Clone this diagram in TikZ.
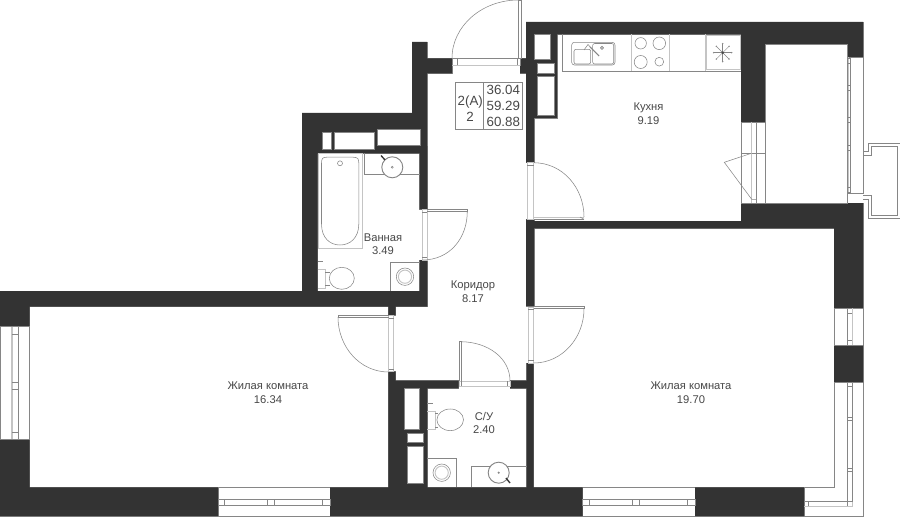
\documentclass[tikz,border=0pt]{standalone}
\usepackage{fontspec}
\setmainfont{Liberation Sans}
\definecolor{wallc}{HTML}{333333}
\definecolor{linec}{HTML}{868686}
\definecolor{lightc}{HTML}{C4C4C4}
\definecolor{textc}{HTML}{484848}
\newcommand{\wallrects}{
 (412,42) rectangle (427,120)
 (427,58.3) rectangle (452,73.3)
 (520,58.3) rectangle (537,73.3)
 (526,22) rectangle (557,118)
 (526,22) rectangle (863,34.3)
 (741,34) rectangle (765,122)
 (765,34) rectangle (863,44)
 (847,34) rectangle (863,57)
 (741,203) rectangle (863,221)
 (526,221) rectangle (863,228.3)
 (526,118) rectangle (534,162.7)
 (526,219.3) rectangle (534,306)
 (834,228) rectangle (863,308)
 (834,345) rectangle (863,382.7)
 (302,113) rectangle (427,153.3)
 (302,113) rectangle (317.7,291)
 (419.7,146) rectangle (427.3,209.3)
 (419.7,260) rectangle (427.3,291)
 (0,291) rectangle (427.3,306.7)
 (0,291) rectangle (29.7,326.7)
 (0,439) rectangle (29.7,487.3)
 (0,487.3) rectangle (218,516)
 (330,487.3) rectangle (582.7,516)
 (695,487.3) rectangle (804,516)
 (388.3,306) rectangle (395.7,315)
 (388.3,371.7) rectangle (395.7,388.3)
 (388.3,380.7) rectangle (458.7,388.3)
 (510,380.7) rectangle (533.7,388.3)
 (388.3,380.7) rectangle (427.3,487.3)
 (526.7,363) rectangle (533.7,487.3)
}
\tikzset{
 plan/.style={x=0.75pt,y=-0.75pt},
 thin line/.style={draw=linec,line width=0.4pt},
 soft line/.style={draw=lightc,line width=0.7pt},
 shaft/.style={fill=white,draw=linec,line width=0.25pt},
 fixture/.style={draw=linec,line width=0.7pt,fill=white},
 label/.style={text=textc,font=\fontsize{8.4pt}{10pt}\selectfont,inner sep=0pt,anchor=center},
 tablelabel/.style={text=textc,font=\fontsize{10pt}{12pt}\selectfont,inner sep=0pt,anchor=center},
}
\begin{document}
\begin{tikzpicture}[plan]
\useasboundingbox (0,0) rectangle (900,517);
\fill[white] (0,0) rectangle (900,517);
% walls
\path[draw=linec,line width=0.7pt] \wallrects;
\fill[wallc] \wallrects;
% shafts
\foreach \a/\b/\c/\d in {534/34.3/550/59, 537.3/62.7/554/72.7, 537.3/76/554/114.7,
 321.7/132.3/330.7/149.3, 334.3/132.3/373.7/149.3, 376.7/129/419.7/145,
 403.7/388.3/419.3/429, 407/432.7/423/442, 407/445.7/423/483.3}
 \path[shaft] (\a,\b) rectangle (\c,\d);
% entrance door
\draw[thin line] (452,58.3) rectangle (520,65);
\draw[thin line] (457.3,58.3) -- (457.3,65) (517.7,58.3) -- (517.7,65);
\draw[soft line] (452,65) -- (520,65);
\draw[thin line] (518.3,0) rectangle (521,58.3);
\draw[thin line] (452,58.3) .. controls (452,26) and (482,0) .. (518.3,0);
% kitchen door (corridor)
\draw[soft line] (527.3,162.7) rectangle (533.5,219.3);
\draw[thin line] (527.3,165) -- (533.5,165);
\draw[thin line] (534,162.7) .. controls (563,163) and (584,188) .. (584,217);
\draw[soft line] (534,217.5) -- (584,217.5);
\draw[thin line] (534,219.3) -- (584,219.3);
\draw[thin line] (580,217) -- (584,219.3);
% bath door
\draw[soft line] (422.3,209.3) rectangle (427.3,260);
\draw[thin line] (422.3,212) -- (427.3,212) (422.3,257.5) -- (427.3,257.5);
\draw[thin line] (427.3,209.3) -- (467.3,209.3) -- (467.3,211.3) -- (427.3,211.3);
\draw[thin line] (467.3,211.3) .. controls (467.3,238) and (450,260) .. (422.3,260);
% room 1 door
\draw[soft line] (388.5,315) rectangle (393.5,371.7);
\draw[thin line] (388.5,318) -- (393.5,318) (388.5,369) -- (393.5,369);
\draw[thin line] (388.5,315) -- (338,315) -- (338,317) -- (388.5,317);
\draw[thin line] (338,317) .. controls (338,347) and (360,372) .. (388.5,372);
% room 2 door
\draw[soft line] (528,307) rectangle (533.5,363);
\draw[thin line] (528,309.5) -- (533.5,309.5) (528,360.5) -- (533.5,360.5);
\draw[thin line] (533.7,306.7) -- (584,306.7) -- (584,308.7) -- (533.7,308.7);
\draw[thin line] (584,308.7) .. controls (584,338) and (562,363) .. (533.7,363);
% wc door
\draw[soft line] (459,381) rectangle (510,386);
\draw[thin line] (461.5,381) -- (461.5,386) (507.5,381) -- (507.5,386);
\draw[thin line] (459,381) -- (459,341.5) -- (461,341.5) -- (461,381);
\draw[thin line] (461,341.7) .. controls (488,342) and (510,358) .. (510,381);
% kitchen furniture
\draw[thin line] (562.3,34.3) -- (562.3,71.3) -- (740.7,71.3);
\draw[soft line] (631.5,34.3) -- (631.5,71.3) (669,34.3) -- (669,71.3) (705,34.3) -- (705,71.3);
\draw[soft line] (706,35) rectangle (740,69.3);
\draw[thin line,rounded corners=2pt] (571.7,42.3) rectangle (615,65);
\draw[thin line,rounded corners=1.5pt] (574,49.3) rectangle (590.7,64);
\draw[thin line,rounded corners=1.5pt] (592.7,43.5) rectangle (613.7,64);
\draw[thin line] (584,50) -- (588,44.5) -- (592,49);
\draw[draw=linec,line width=0.8pt] (590,47) -- (599,56);
\draw[thin line,fill=linec!50] (602,47.8) circle (1.6);
\foreach \cx/\cy/\r in {640.7/43.3/5.7, 640.7/62/6.5, 659.3/43.3/6.3, 659.3/61.7/4.4}
 \draw[thin line] (\cx,\cy) circle (\r);
% fridge star
\foreach \ang in {0,45,...,315}{
 \draw[draw=linec,line width=0.35pt] (722.7,52.7) -- ++(\ang:9);
 \fill[linec] (722.7,52.7) ++(\ang:9) circle (0.8);
}
\fill[textc] (722.7,52.7) circle (1.4);
% loggia door
\draw[thin line] (741,122) -- (765,122) (765,122) -- (765,203) (741,122) -- (741,203) (741,203) -- (765,203) (741,153.3) -- (765,153.3);
\draw[soft line] (751.7,122) -- (751.7,203);
\draw[thin line] (756.7,122) -- (756.7,203);
\draw[thin line] (751.5,153.3) -- (724.3,162.3) -- (751.7,199.3) -- (756.7,199.3);
% loggia outline
\draw[thin line] (765,44) rectangle (847,203);
% loggia window
\draw[thin line] (847,57) -- (863,57) -- (863,193) -- (847,193);
\draw[soft line] (848.5,57) -- (848.5,193);
\draw[thin line] (850,57) -- (850,193);
\foreach \yy in {58.5,63,85,90,117,122,145,150,187,192}
 \draw[thin line] (847,\yy) -- (850,\yy);
% AC basket
\draw[thin line] (863,151.7) -- (868.3,151.7) -- (868.3,143.3) -- (900,143.3) -- (900,218) -- (868.3,218) -- (868.3,199) -- (863,199);
\draw[thin line] (863,155.7) -- (871.7,155.7) -- (871.7,146) -- (897,146) -- (897,215.7) -- (871.7,215.7) -- (871.7,195.7) -- (863,195.7);
% left window
\draw[thin line] (0,326.7) -- (29.5,326.7) -- (29.5,439) -- (0,439);
\draw[thin line] (0.3,326.7) -- (0.3,439);
\draw[draw=lightc,line width=1.4pt] (12.3,326.7) -- (12.3,439);
\draw[thin line] (18.7,326.7) -- (18.7,439);
\foreach \yy in {334.3,382.7,389.3,432.3}
 \draw[thin line] (12,\yy) -- (18.7,\yy);
% bottom left window
\draw[thin line] (218,487.3) -- (330,487.3) (218,516) -- (330,516);
\draw[thin line] (218,499.3) rectangle (330,505.7);
\foreach \xx in {224.7,267.3,274.3,322.3}
 \draw[thin line] (\xx,499.3) -- (\xx,505.7);
% bottom right window
\draw[thin line] (582.7,487.3) -- (695,487.3) (582.7,516) -- (695,516);
\draw[thin line] (582.7,499.3) rectangle (695,505.7);
\foreach \xx in {589.5,632,639,687}
 \draw[thin line] (\xx,499.3) -- (\xx,505.7);
% right windows
\draw[thin line] (834.3,308) -- (834.3,345) (863.3,308) -- (863.3,345) (834.3,308) -- (863.3,308) (834.3,345) -- (863.3,345);
\draw[thin line] (847.3,308) -- (847.3,345);
\draw[soft line] (852.3,308) -- (852.3,345);
\foreach \yy in {313,340.5}
 \draw[thin line] (847.3,\yy) -- (852.3,\yy);
\draw[draw=linec,line width=0.6pt] (834.3,382.7) -- (834.3,487.3) -- (804,487.3);
\draw[thin line] (863.3,382.7) -- (863.3,516) -- (804,516);
\draw[thin line] (834.3,382.7) -- (863.3,382.7);
\draw[thin line] (847.3,382.7) -- (847.3,501) -- (804,501);
\draw[soft line] (852.3,382.7) -- (852.3,506) -- (804,506);
\draw[thin line] (852.3,382.7) -- (852.3,501) -- (847.3,501) -- (847.3,506);
\foreach \yy in {386.5,417,420.5,468,471}
 \draw[thin line] (847.3,\yy) -- (852.3,\yy);
\draw[thin line] (808.7,501) -- (808.7,506);
% bathtub
\draw[soft line] (318.3,153.6) rectangle (362.8,248);
\draw[thin line] (321.5,163) .. controls (321.5,158) and (323,157.2) .. (327,157.2) -- (353,157.2) .. controls (358,157.2) and (358.8,159) .. (358.8,163) -- (358.8,224) .. controls (358.8,238) and (350,245) .. (340,245) .. controls (330,245) and (321.5,238) .. (321.5,224) -- cycle;
\draw[thin line] (340,163.3) circle (2.5);
% bath sink
\draw[thin line] (364.3,153.3) -- (364.3,174) -- (419.7,174);
\draw[fixture] (392.3,167.3) circle (10.5);
\draw[thin line] (392.3,167.3) circle (1);
\draw[draw=wallc,line width=1pt] (381,155.5) -- (385,160);
% bath toilet
\draw[thin line] (317.7,261) -- (323,261);
\draw[soft line] (317.7,269.5) -- (325,269.5) -- (325,288) -- (317.7,288);
\draw[thin line] (325,272) -- (329.5,272) (325,285) -- (329.5,285);
\draw[thin line] (341.8,278.3) ellipse (12.5 and 11);
% bath washer
\draw[thin line] (390.7,291) -- (390.7,262) -- (419.7,262);
\draw[thin line] (405,276.7) circle (8.7);
\draw[soft line] (405,276.7) circle (6.6);
% wc toilet
\draw[thin line] (427.3,403) -- (433,403);
\draw[soft line] (427.3,411) -- (435,411) -- (435,429) -- (427.3,429);
\draw[thin line] (435,413) -- (438,413) (435,427) -- (438,427);
\draw[thin line] (450.2,419.8) ellipse (13.3 and 10.8);
% wc washer
\draw[thin line] (427.3,458.3) -- (456.7,458.3) -- (456.7,487.3);
\draw[thin line] (441.7,472.7) circle (8.7);
\draw[soft line] (441.7,472.7) circle (6.6);
% wc sink
\draw[thin line] (471.3,487.3) -- (471.3,466) -- (526.7,466);
\draw[fixture] (498.7,472.7) circle (10.5);
\fill[linec] (498.7,472.7) circle (1.2);
\draw[draw=wallc,line width=1pt] (506,478) -- (510,483);
% apartment table
\draw[thin line] (455.3,82.3) rectangle (522.7,129.7);
\draw[thin line] (483.3,82.3) -- (483.3,129.7);
\node[tablelabel] (apt) at (470.3,102) {2(A)};
\node[tablelabel] (rooms) at (470,117) {2};
\node[tablelabel] (areaa) at (503.3,89.5) {36.04};
\node[tablelabel] (areab) at (503.3,106) {59.29};
\node[tablelabel] (areac) at (503.3,122) {60.88};
% room labels
\node[label] (kit) at (648.5,108) {Кухня};
\node[label] (kitn) at (648.5,121) {9.19};
\node[label] (bath) at (383,238) {Ванная};
\node[label] (bathn) at (383,251) {3.49};
\node[label] (corr) at (473,285.5) {Коридор};
\node[label] (corrn) at (473,299) {8.17};
\node[label] (rooma) at (268,386) {Жилая комната};
\node[label] (roomam) at (268,399.5) {16.34};
\node[label] (roomb) at (691,386) {Жилая комната};
\node[label] (roombn) at (691,399.5) {19.70};
\node[label] (wc) at (484,416) {С/У};
\node[label] (wcn) at (484,429.5) {2.40};
\end{tikzpicture}
\end{document}
